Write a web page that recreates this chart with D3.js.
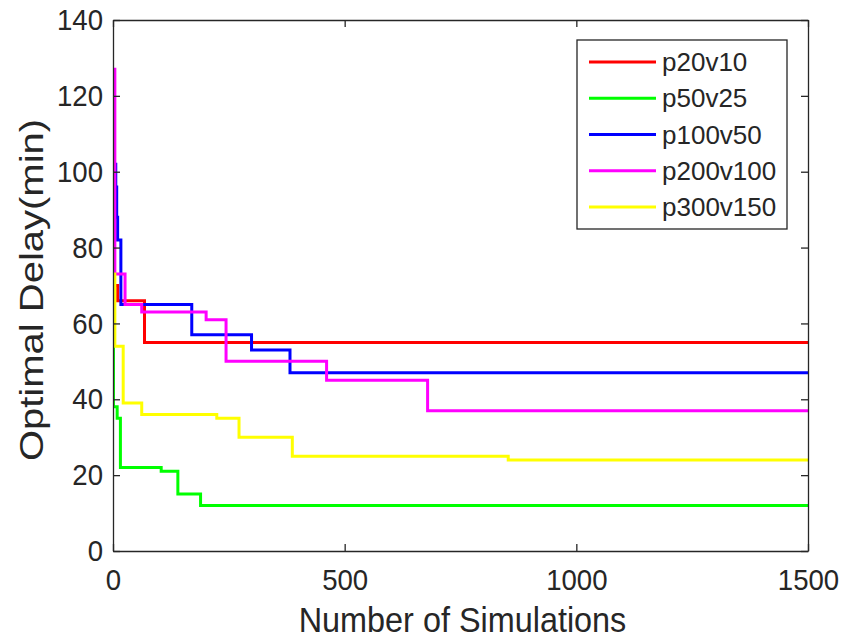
<!DOCTYPE html>
<html>
<head>
<meta charset="utf-8">
<script src="https://cdn.jsdelivr.net/npm/d3@7"></script>
<style>
  html, body { margin: 0; padding: 0; background: #fff; }
  svg text { font-family: "Liberation Sans", Arial, Helvetica, sans-serif; fill: #262626; }
</style>
</head>
<body>
<svg id="chart" width="843" height="638"></svg>
<script>
// Best delay found so far vs. number of simulations, one step series per scenario.
const seriesNames = ["p20v10", "p50v25", "p100v50", "p200v100", "p300v150"];
const seriesColors = ["#ff0000", "#00ff00", "#0000ff", "#ff00ff", "#ffff00"];

// [simulation index, optimal delay (min)] at each improvement
const p20v10 = [[0, 70], [10, 66], [68, 55], [1500, 55]];
const p50v25 = [[0, 67], [1, 38], [9, 35], [16, 22], [104, 21], [140, 15], [189, 12], [1500, 12]];
const p100v50 = [[0, 124], [1, 102], [6, 96], [8, 88], [10, 82], [17, 65], [170, 57], [299, 53], [382, 47], [1500, 47]];
const p200v100 = [[0, 127], [4, 73], [26, 65], [62, 63], [201, 61], [244, 50], [461, 45], [679, 37], [1500, 37]];
const p300v150 = [[0, 73], [4, 54], [22, 39], [62, 36], [224, 35], [272, 30], [387, 25], [853, 24], [1500, 24]];
const seriesData = [p20v10, p50v25, p100v50, p200v100, p300v150];

const xTicks = [0, 500, 1000, 1500];
const yTicks = [0, 20, 40, 60, 80, 100, 120, 140];
const xLabel = "Number of Simulations";
const yLabel = "Optimal Delay(min)";

const W = 843, H = 638;
const margin = { left: 113, right: 35, top: 20, bottom: 87 };
const iw = W - margin.left - margin.right;
const ih = H - margin.top - margin.bottom;
const axisColor = "#262626";
const tickSqueeze = 0.92;   // horizontal compression of the tick digits
const titleSqueeze = 0.9;

const svg = d3.select("#chart");
const g = svg.append("g").attr("transform", `translate(${margin.left},${margin.top})`);

const x = d3.scaleLinear().domain([0, 1500]).range([0, iw]);
const y = d3.scaleLinear().domain([0, 140]).range([ih, 0]);

// clip the step lines to the plotting box
svg.append("defs").append("clipPath").attr("id", "plotClip")
  .append("rect").attr("x", 0).attr("y", 0).attr("width", iw).attr("height", ih);

const line = d3.line()
  .x(d => x(d[0]))
  .y(d => y(d[1]))
  .curve(d3.curveStepAfter);

const lines = g.append("g").attr("clip-path", "url(#plotClip)");
seriesData.forEach((s, i) => {
  lines.append("path")
    .datum(s)
    .attr("fill", "none")
    .attr("stroke", seriesColors[i])
    .attr("stroke-width", 3)
    .attr("stroke-linejoin", "miter")
    .attr("d", line);
});

// axes: bottom/left with labels, top/right mirrored ticks only
const tickLen = 7;
const styleAxis = sel => {
  sel.select(".domain").attr("stroke", axisColor).attr("stroke-width", 1.3);
  sel.selectAll(".tick line").attr("stroke", axisColor).attr("stroke-width", 1.3);
  sel.selectAll(".tick text").style("font-size", "30px").attr("fill", axisColor);
};

g.append("g").attr("transform", `translate(0,${ih})`)
  .call(d3.axisBottom(x).tickValues(xTicks).tickFormat(d3.format("d"))
    .tickSize(-tickLen).tickPadding(18).tickSizeOuter(0))
  .call(styleAxis)
  .call(a => a.selectAll(".tick text").attr("dy", "0.71em")
    .attr("transform", `scale(${tickSqueeze},1)`));

g.append("g")
  .call(d3.axisLeft(y).tickValues(yTicks).tickSize(-tickLen).tickPadding(10).tickSizeOuter(0))
  .call(styleAxis)
  .call(a => a.selectAll(".tick text").attr("x", -10 / tickSqueeze)
    .attr("transform", `scale(${tickSqueeze},1)`));

g.append("g")
  .call(d3.axisTop(x).tickValues(xTicks).tickSize(-tickLen).tickFormat("").tickSizeOuter(0))
  .call(styleAxis);

g.append("g").attr("transform", `translate(${iw},0)`)
  .call(d3.axisRight(y).tickValues(yTicks).tickSize(-tickLen).tickFormat("").tickSizeOuter(0))
  .call(styleAxis);

// axis titles
svg.append("text")
  .attr("transform", `translate(${margin.left + iw / 2 + 2},632) scale(${titleSqueeze},1)`)
  .attr("text-anchor", "middle")
  .style("font-size", "36px")
  .text(xLabel);

svg.append("text")
  .attr("transform", `translate(43,290) scale(0.85,1) rotate(-90)`)
  .attr("text-anchor", "middle")
  .style("font-size", "40px")
  .text(yLabel);

// legend
const legend = svg.append("g").attr("transform", "translate(577,40)");
legend.append("rect")
  .attr("width", 210).attr("height", 189)
  .attr("fill", "#fff")
  .attr("stroke", axisColor).attr("stroke-width", 1.3);

const rowY = d3.scaleLinear().domain([0, 4]).range([22, 167]);
seriesNames.forEach((name, i) => {
  const ry = rowY(i);
  legend.append("line")
    .attr("x1", 12).attr("x2", 79)
    .attr("y1", ry).attr("y2", ry)
    .attr("stroke", seriesColors[i]).attr("stroke-width", 3);
  legend.append("text")
    .attr("x", 85).attr("y", ry)
    .attr("dy", "0.35em")
    .style("font-size", "26px")
    .text(name);
});
</script>
</body>
</html>
